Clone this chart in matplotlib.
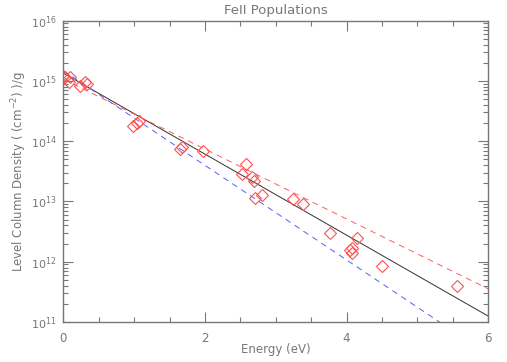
import numpy as np
import matplotlib
matplotlib.use('Agg')
import matplotlib.pyplot as plt
from matplotlib.ticker import LogLocator, MultipleLocator

# level energies (eV) and column densities (log10)
energy = [0.0, 0.02, 0.09, 0.08, 0.24, 0.31, 0.34,
          0.99, 1.04, 1.07, 1.67, 1.65, 1.97,
          2.58, 2.52, 2.67, 2.69, 2.80, 2.70, 3.24, 3.39, 3.77,
          4.05, 4.15, 4.08, 4.08, 4.50, 5.56]
logN = [15.08, 15.06, 15.06, 14.99, 14.92, 14.99, 14.95,
        14.25, 14.31, 14.34, 13.91, 13.87, 13.84,
        13.62, 13.45, 13.40, 13.34, 13.11, 13.06, 13.04, 12.96, 12.48,
        12.19, 12.40, 12.23, 12.14, 11.93, 11.60]

# fitted lines: intercept (log) and slope (dex / eV)
fit_x = [0.0, 6.0]
black_fit = (15.13, -0.672)
red_fit = (15.03, -0.58)
blue_fit = (15.17, -0.785)

grey = '#777777'
plt.rcParams['font.family'] = 'DejaVu Sans'
plt.rcParams['mathtext.default'] = 'regular'

fig = plt.figure(figsize=(5.07, 3.62), dpi=100)
ax = fig.add_axes([0.1249, 0.1105, 0.838, 0.8323])

xx = np.array(fit_x)
for (a, b), c, ls in [(black_fit, '#303030', '-'), (red_fit, '#ff5a5a', (0, (6, 5))),
                      (blue_fit, '#5a5aff', (0, (6, 5)))]:
    ax.plot(xx, 10 ** (a + b * xx), color=c, lw=0.7, ls=ls)

ax.plot(energy, 10 ** np.array(logN), ls='none', marker='D', ms=5.8, mfc='none',
        mec='#ff5050', mew=0.8)

ax.set_yscale('log')
ax.set_xlim(0, 6)
ax.set_ylim(1e11, 1e16)
ax.xaxis.set_major_locator(MultipleLocator(2))
ax.xaxis.set_minor_locator(MultipleLocator(0.5))
ax.yaxis.set_minor_locator(LogLocator(base=10, subs=np.arange(2, 10), numticks=10))
ax.set_yticks([1e11, 1e12, 1e13, 1e14, 1e15, 1e16])
ax.set_yticklabels(['$10^{%d}$' % i for i in range(11, 17)])

ax.tick_params(which='both', direction='in', top=True, right=True, color=grey,
               labelcolor=grey, labelsize=8)
ax.tick_params(which='major', length=7, width=0.8)
ax.tick_params(which='minor', length=3.5, width=0.8)
ax.tick_params(axis='x', pad=7, labelsize=8.5)
ax.tick_params(axis='y', pad=5)
for s in ax.spines.values():
    s.set_color(grey)
    s.set_linewidth(1.0)

ax.set_title('FeII Populations', color=grey, fontsize=9.5, pad=5)
ax.set_xlabel('Energy (eV)', color=grey, fontsize=8.5, labelpad=-1)
ax.set_ylabel('Level Column Density ( (cm$^{-2}$) )/g', color=grey, fontsize=8.5, labelpad=1)

fig.savefig('out.png', dpi=100)
